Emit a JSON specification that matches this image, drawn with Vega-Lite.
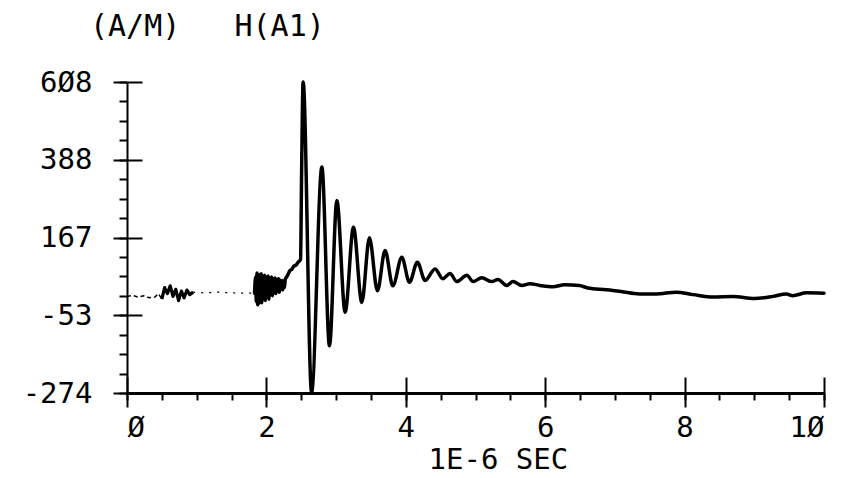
{
  "$schema": "https://vega.github.io/schema/vega-lite/v6.json",
  "width": 697,
  "height": 311,
  "autosize": {"type": "none"},
  "padding": {"left": 127, "top": 82, "right": 24, "bottom": 85},
  "background": "white",
  "config": {
    "view": {"stroke": null},
    "axis": {"domainColor": "black", "tickColor": "black", "labelColor": "black", "titleColor": "black", "grid": false, "labelFont": "DejaVu Sans Mono", "titleFont": "DejaVu Sans Mono", "titleFontWeight": "normal"}
  },
  "title": {"text": "(A/M)\u00a0\u00a0\u00a0H(A1)", "anchor": "start", "frame": "group", "dx": -37, "offset": 26, "font": "DejaVu Sans Mono", "fontSize": 30, "fontWeight": "normal", "color": "black"},
  "data": {"values": [
    {"t": 0, "h": 0}, {"t": 0.08, "h": 3}, {"t": 0.16, "h": -2}, {"t": 0.24, "h": 2}, {"t": 0.32, "h": -4}, {"t": 0.4, "h": -2}, {"t": 0.45, "h": 8}, {"t": 0.5, "h": -8},
    {"t": 0.54, "h": 25}, {"t": 0.58, "h": 8}, {"t": 0.62, "h": 30}, {"t": 0.66, "h": 0}, {"t": 0.7, "h": 20}, {"t": 0.74, "h": -12}, {"t": 0.78, "h": 15}, {"t": 0.82, "h": -4}, {"t": 0.86, "h": 18}, {"t": 0.9, "h": 5}, {"t": 0.95, "h": 12},
    {"t": 1.1, "h": 10}, {"t": 1.3, "h": 12}, {"t": 1.5, "h": 10}, {"t": 1.7, "h": 9}, {"t": 1.83, "h": 9},
    {"t": 1.845, "h": 55}, {"t": 1.855, "h": -15}, {"t": 1.865, "h": 66}, {"t": 1.875, "h": -24}, {"t": 1.885, "h": 62}, {"t": 1.895, "h": -20}, {"t": 1.905, "h": 60}, {"t": 1.915, "h": -10}, {"t": 1.925, "h": 64}, {"t": 1.935, "h": -18}, {"t": 1.95, "h": 58}, {"t": 1.96, "h": -5}, {"t": 1.975, "h": 60}, {"t": 1.985, "h": -12}, {"t": 2.0, "h": 55}, {"t": 2.01, "h": 0}, {"t": 2.025, "h": 58}, {"t": 2.035, "h": -8}, {"t": 2.05, "h": 52}, {"t": 2.06, "h": 5}, {"t": 2.075, "h": 55}, {"t": 2.085, "h": 2}, {"t": 2.1, "h": 50}, {"t": 2.11, "h": 10}, {"t": 2.125, "h": 52}, {"t": 2.135, "h": 8}, {"t": 2.15, "h": 48}, {"t": 2.16, "h": 15}, {"t": 2.175, "h": 50}, {"t": 2.185, "h": 12}, {"t": 2.2, "h": 46}, {"t": 2.21, "h": 20}, {"t": 2.225, "h": 45}, {"t": 2.235, "h": 18}, {"t": 2.25, "h": 44}, {"t": 2.26, "h": 25}, {"t": 2.27, "h": 48},
    {"t": 2.3, "h": 58}, {"t": 2.337, "h": 73}, {"t": 2.37, "h": 78}, {"t": 2.394, "h": 86}, {"t": 2.42, "h": 88}, {"t": 2.456, "h": 97}, {"t": 2.49, "h": 105}, {"t": 2.505, "h": 350}, {"t": 2.527, "h": 608},
    {"t": 2.648, "h": -273}, {"t": 2.796, "h": 367}, {"t": 2.905, "h": -140}, {"t": 3.011, "h": 272}, {"t": 3.13, "h": -45}, {"t": 3.249, "h": 196}, {"t": 3.369, "h": -17}, {"t": 3.478, "h": 166}, {"t": 3.593, "h": 16}, {"t": 3.703, "h": 130}, {"t": 3.814, "h": 30}, {"t": 3.943, "h": 111}, {"t": 4.052, "h": 40}, {"t": 4.166, "h": 97}, {"t": 4.277, "h": 45}, {"t": 4.42, "h": 78}, {"t": 4.53, "h": 50}, {"t": 4.635, "h": 65}, {"t": 4.731, "h": 42}, {"t": 4.875, "h": 60}, {"t": 4.965, "h": 42}, {"t": 5.09, "h": 53}, {"t": 5.233, "h": 42}, {"t": 5.323, "h": 48}, {"t": 5.448, "h": 31}, {"t": 5.538, "h": 42}, {"t": 5.663, "h": 31}, {"t": 5.782, "h": 36}, {"t": 5.925, "h": 31},
    {"t": 6.11, "h": 27}, {"t": 6.28, "h": 33}, {"t": 6.49, "h": 31}, {"t": 6.61, "h": 24}, {"t": 6.88, "h": 19}, {"t": 7.09, "h": 14}, {"t": 7.35, "h": 7}, {"t": 7.59, "h": 7}, {"t": 7.88, "h": 12}, {"t": 8.12, "h": 5}, {"t": 8.41, "h": -2}, {"t": 8.69, "h": 0}, {"t": 9.0, "h": -6}, {"t": 9.27, "h": 0}, {"t": 9.46, "h": 7}, {"t": 9.55, "h": 2}, {"t": 9.75, "h": 10}, {"t": 10.0, "h": 9}
  ]},
  "resolve": {"axis": {"x": "independent", "y": "independent"}},
  "layer": [
    {
      "transform": [{"filter": {"field": "t", "range": [0, 0.5]}}],
      "mark": {"type": "line", "color": "black", "strokeWidth": 1.5, "strokeDash": [4, 3]},
      "encoding": {
        "x": {"field": "t", "type": "quantitative", "scale": {"domain": [0, 10], "nice": false, "zero": false},
          "axis": {"orient": "bottom", "values": [0, 2, 4, 6, 8, 10], "tickSize": 14, "tickWidth": 2, "domainWidth": 3, "labelPadding": 6, "labelFontSize": 29, "labelExpr": "replace(datum.label, '0', '\u00d8')", "title": "1E-6 SEC", "titleFontSize": 29, "titleX": 301, "titleY": 52, "titleAlign": "left", "titleBaseline": "top"}},
        "y": {"field": "h", "type": "quantitative", "scale": {"domain": [-274, 608], "nice": false, "zero": false},
          "axis": {"orient": "left", "values": [-274, -53, 167, 388, 608], "tickSize": 14, "tickWidth": 2, "domainWidth": 2, "labelPadding": 21, "labelFontSize": 29, "labelExpr": "replace(replace(format(datum.value, 'd'), '0', '\u00d8'), '\u2212', '-')", "title": null}}
      }
    },
    {
      "transform": [{"filter": {"field": "t", "range": [0.5, 0.95]}}],
      "mark": {"type": "line", "color": "black", "strokeWidth": 3.2, "strokeJoin": "round"},
      "encoding": {
        "x": {"field": "t", "type": "quantitative", "scale": {"domain": [0, 10]},
          "axis": {"orient": "bottom", "values": [0, 0.5, 1, 1.5, 2, 2.5, 3, 3.5, 4, 4.5, 5, 5.5, 6, 6.5, 7, 7.5, 8, 8.5, 9, 9.5, 10], "tickSize": 7, "tickWidth": 2, "labels": false, "domain": false, "title": null}},
        "y": {"field": "h", "type": "quantitative", "scale": {"domain": [-274, 608]},
          "axis": {"orient": "left", "values": [-274, -218.875, -163.75, -108.625, -53, 1.625, 56.75, 111.875, 167, 222.125, 277.25, 332.375, 388, 442.625, 497.75, 552.875, 608], "tickSize": 8, "tickWidth": 2, "labels": false, "domain": false, "title": null}}
      }
    },
    {
      "transform": [{"filter": {"field": "t", "range": [0.95, 1.83]}}],
      "mark": {"type": "line", "color": "black", "strokeWidth": 1.3, "strokeDash": [2, 6]},
      "encoding": {
        "x": {"field": "t", "type": "quantitative", "scale": {"domain": [0, 10]},
          "axis": {"orient": "bottom", "values": [0, 2, 4, 6, 8, 10], "tickSize": -16, "tickWidth": 2, "labels": false, "domain": false, "title": null}},
        "y": {"field": "h", "type": "quantitative", "scale": {"domain": [-274, 608]},
          "axis": {"orient": "left", "values": [-53, 167, 388, 608], "tickSize": -15, "tickWidth": 2, "labels": false, "domain": false, "title": null}}
      }
    },
    {
      "transform": [{"filter": {"field": "t", "range": [1.83, 10]}}],
      "mark": {"type": "line", "color": "black", "strokeWidth": 3.5, "interpolate": "monotone", "strokeJoin": "round", "strokeCap": "round"},
      "encoding": {
        "x": {"field": "t", "type": "quantitative", "scale": {"domain": [0, 10]}, "axis": null},
        "y": {"field": "h", "type": "quantitative", "scale": {"domain": [-274, 608]}, "axis": null}
      }
    }
  ]
}
